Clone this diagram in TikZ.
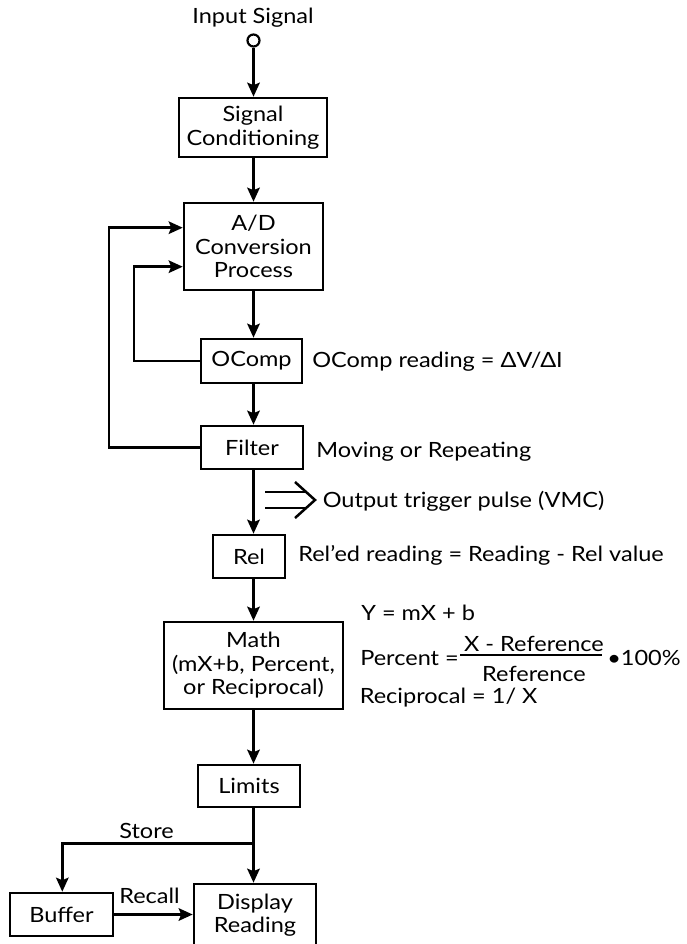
\documentclass[tikz,border=0pt]{standalone}
\usepackage{fontspec}
\setmainfont{Lato}[FakeStretch=1.12]
\usetikzlibrary{arrows.meta,calc}
\begin{document}
\begin{tikzpicture}[x=1pt,y=-1pt,
  line width=2.6pt,
  font=\fontsize{21}{23.5}\selectfont,
  box/.style={draw,rectangle,inner sep=0pt,align=center,line width=2.6pt},
  arr/.style={-{Stealth[length=14pt,width=12.5pt,inset=2.5pt]},line width=2.6pt},
  lbl/.style={anchor=base west,inner sep=0pt}]
\useasboundingbox (0,0) rectangle (686,944);
\def\sx{253.5}
% boxes
\node[box,minimum width=148pt,minimum height=59pt] (sig) at (253,127.5) {Signal\\Conditioning};
\node[box,minimum width=139pt,minimum height=87pt] (ad) at (253.5,246.5) {A/D\\Conversion\\Process};
\node[box,minimum width=101pt,minimum height=44pt] (ocomp) at (251.5,361) {OComp};
\node[box,minimum width=102pt,minimum height=43pt] (filter) at (252,447.5) {Filter};
\node[box,minimum width=72pt,minimum height=43pt] (rel) at (249,556.5) {Rel};
\node[box,minimum width=179pt,minimum height=87pt] (math) at (253.5,665.5) {Math\\(mX+b, Percent,\\or Reciprocal)};
\node[box,minimum width=102pt,minimum height=42pt] (limits) at (249,786) {Limits};
\node[box,minimum width=103pt,minimum height=43pt] (buffer) at (61.5,914.5) {Buffer};
\node[box,minimum width=122pt,minimum height=62pt] (display) at (255,915) {Display\\Reading};
% input
\node[anchor=base,inner sep=0pt] (inlbl) at (253,24) {Input Signal};
\node[draw,circle,minimum size=12pt,inner sep=0pt,line width=2.2pt] (in) at (253.5,40.5) {};
% main chain
\draw[arr] (in.south) -- (in.south |- sig.north);
\draw[arr] (sig.south -| \sx,0) -- (\sx,0 |- ad.north);
\draw[arr] (ad.south -| \sx,0) -- (\sx,0 |- ocomp.north);
\draw[arr] (ocomp.south -| \sx,0) -- (\sx,0 |- filter.north);
\draw[arr] (filter.south -| \sx,0) -- (\sx,0 |- rel.north);
\draw[arr] (rel.south -| \sx,0) -- (\sx,0 |- math.north);
\draw[arr] (math.south -| \sx,0) -- (\sx,0 |- limits.north);
\draw[arr] (limits.south -| \sx,0) -- (\sx,0 |- display.north);
% feedback loops
\coordinate (adin1) at (ad.west |- 0,227.7);
\coordinate (adin2) at (ad.west |- 0,266.7);
\draw[arr] (filter.west) -| (109,227.7) -- (adin1);
\draw[arr] (ocomp.west) -| (134,266.7) -- (adin2);
% store / recall
\coordinate (store) at (\sx,843.3);
\draw[arr] (store) -| (buffer.north -| 62.3,0);
\draw[arr] (buffer.east) -- (buffer.east -| display.west);
\node[lbl] (storelbl) at (118,838) {Store};
\node[lbl] (recalllbl) at (118,903) {Recall};
% output trigger
\draw[line width=2.5pt] (265,492) -- (306,492) (265,508) -- (306,508);
\draw[line width=2.5pt,line join=miter] (295,482) -- (315,500) -- (295,518);
\node[lbl] (trig) at (321.5,507.5) {Output trigger pulse (VMC)};
% side labels
\node[lbl] (ocl) at (311,367) {OComp reading = ΔV/ΔI};
\node[lbl] (fil) at (315,457) {Moving or Repeating};
\node[lbl] (rell) at (297,561.5) {Rel’ed reading = Reading - Rel value};
\node[lbl] (ymx) at (360,620) {Y = mX + b};
\node[lbl] (pct) at (359,665) {Percent =};
\node[anchor=base,inner sep=0pt] (num) at (534,651.7) {X - Reference};
\draw[line width=1.2pt] (460,655) -- (602,655);
\node[anchor=base,inner sep=0pt] (den) at (534,681.7) {Reference};
\node[lbl] (hund) at (606,665) {•100\%};
\node[lbl] (rec) at (358.5,703) {Reciprocal = 1/ X};
\end{tikzpicture}
\end{document}
